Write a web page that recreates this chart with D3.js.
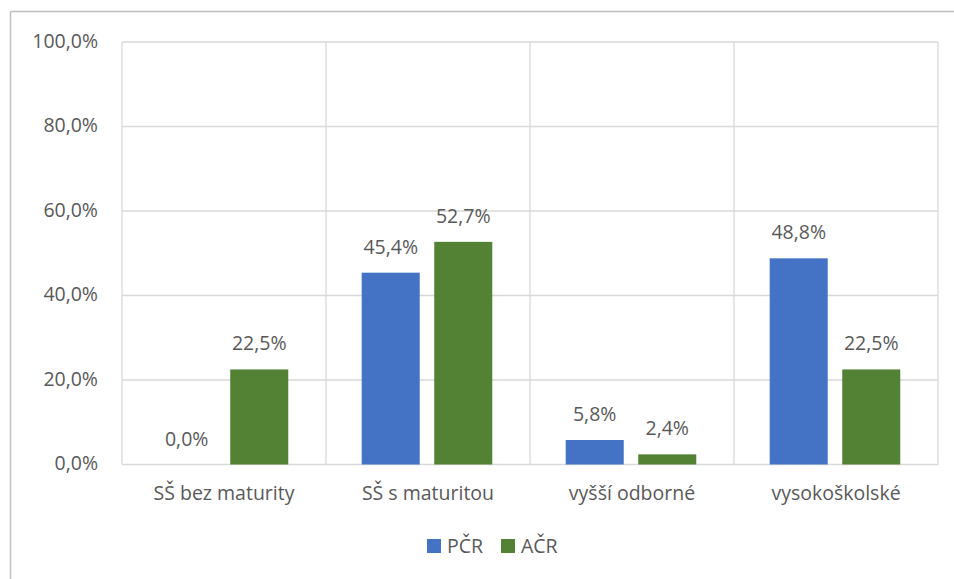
<!DOCTYPE html>
<html><head><meta charset="utf-8">
<script src="https://cdn.jsdelivr.net/npm/d3@7"></script>
<style>body{margin:0;background:#fff}svg{display:block}</style>
</head><body>
<script>
const categories = ["SŠ bez maturity", "SŠ s maturitou", "vyšší odborné", "vysokoškolské"];
const seriesNames = ["PČR", "AČR"];
const pcr = [0.0, 45.4, 5.8, 48.8];
const acr = [22.5, 52.7, 2.4, 22.5];
const yTicks = [0, 20, 40, 60, 80, 100];
const colors = ["#4472C4", "#548235"];

(function () {
const W = 954, H = 579;
const font = "'Segoe UI','Open Sans',sans-serif";
const fs = 19.5;
const txt = "#595959";
const svg = d3.select("body").append("svg").attr("width", W).attr("height", H);

svg.append("line").attr("x1", 10.5).attr("x2", 10.5).attr("y1", 11.5).attr("y2", H).attr("stroke", "#bfbfbf").attr("stroke-width", 1.5);
svg.append("line").attr("x1", 10.5).attr("x2", W).attr("y1", 11.5).attr("y2", 11.5).attr("stroke", "#bfbfbf").attr("stroke-width", 1.5);

const pLeft = 122, pRight = 938, pTop = 42, pBottom = 464.5;
const x = d3.scaleBand().domain(categories).range([pLeft, pRight]).paddingInner(0).paddingOuter(0);
const y = d3.scaleLinear().domain([0, 100]).range([pBottom, pTop]);
const bw = x.bandwidth();
const xs = d3.scaleBand().domain(seriesNames).range([bw * 0.175, bw * 0.815]).paddingInner(0.2);

const g = svg.append("g");
g.selectAll(".hg").data(yTicks).join("line")
  .attr("x1", pLeft).attr("x2", pRight).attr("y1", d => y(d)).attr("y2", d => y(d))
  .attr("stroke", "#d9d9d9").attr("stroke-width", 1.3);
const bounds = categories.map(c => x(c)).concat([pRight]);
g.selectAll(".vg").data(bounds).join("line")
  .attr("x1", d => d).attr("x2", d => d).attr("y1", pTop).attr("y2", pBottom)
  .attr("stroke", "#d9d9d9").attr("stroke-width", 1.3);

svg.selectAll(".yt").data(yTicks).join("text")
  .attr("x", 98).attr("y", d => y(d)).attr("dy", "0.3em")
  .attr("text-anchor", "end").attr("font-family", font).attr("font-size", fs).attr("fill", txt)
  .text(d => d3.format(".1f")(d).replace(".", ",") + "%");

const data = categories.map((c, i) => ({c, vals: [pcr[i], acr[i]]}));
const cg = svg.selectAll(".cat").data(data).join("g").attr("transform", d => `translate(${x(d.c)},0)`);
cg.selectAll("rect").data(d => d.vals.map((v, j) => ({v, s: seriesNames[j], j}))).join("rect")
  .attr("x", d => xs(d.s)).attr("width", xs.bandwidth())
  .attr("y", d => y(d.v)).attr("height", d => y(0) - y(d.v))
  .attr("fill", d => colors[d.j]);
cg.selectAll("text").data(d => d.vals.map((v, j) => ({v, s: seriesNames[j], j}))).join("text")
  .attr("x", d => xs(d.s) + xs.bandwidth() / 2).attr("y", d => y(d.v) - 19)
  .attr("text-anchor", "middle").attr("font-family", font).attr("font-size", fs).attr("fill", txt)
  .text(d => d3.format(".1f")(d.v).replace(".", ",") + "%");

svg.selectAll(".xl").data(categories).join("text")
  .attr("x", d => x(d) + bw / 2).attr("y", 493).attr("dy", "0.35em")
  .attr("text-anchor", "middle").attr("font-family", font).attr("font-size", fs).attr("fill", txt)
  .text(d => d);

const legX = [427, 501];
const lg = svg.selectAll(".lg").data(seriesNames).join("g").attr("transform", (d, i) => `translate(${legX[i]},539)`);
lg.append("rect").attr("width", 14).attr("height", 14).attr("fill", (d, i) => colors[i]);
lg.append("text").attr("x", 20).attr("y", 7).attr("dy", "0.35em")
  .attr("font-family", font).attr("font-size", fs).attr("fill", txt).text(d => d);
})();
</script>
</body></html>
